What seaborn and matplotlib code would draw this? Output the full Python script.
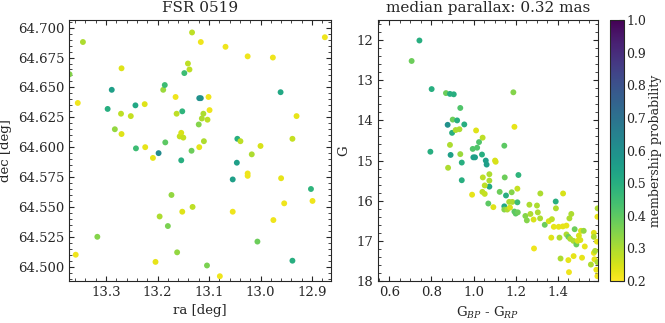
import numpy as np
import pandas as pd
import matplotlib
matplotlib.use('Agg')
import matplotlib.pyplot as plt
import seaborn as sns

# sky positions (left panel)
ra = [13.371, 13.345, 13.355, 13.359, 13.317, 13.289, 13.297, 13.283, 13.271, 13.270,
      13.270, 13.252, 13.243, 13.242, 13.225, 13.224, 13.209, 13.198, 13.204, 13.196,
      13.189, 13.186, 13.185, 13.180, 13.173, 13.165, 13.162, 13.163, 13.157, 13.154,
      13.150, 13.152, 13.154, 13.152, 13.148, 13.141, 13.138, 13.134, 13.133, 13.132,
      13.120, 13.119, 13.119, 13.116, 13.116, 13.114, 13.111, 13.110, 13.104, 13.103,
      13.101, 13.099, 13.079, 13.068, 13.054, 13.054, 13.046, 13.045, 13.039, 13.025,
      13.025, 13.025, 13.017, 13.006, 13.000, 12.976, 12.975, 12.961, 12.960, 12.954,
      12.938, 12.938, 12.930, 12.902, 12.899, 12.875]
dec = [64.661, 64.688, 64.637, 64.510, 64.525, 64.648, 64.632, 64.615, 64.628, 64.666,
       64.611, 64.626, 64.635, 64.599, 64.636, 64.600, 64.591, 64.595, 64.504, 64.542,
       64.648, 64.652, 64.604, 64.534, 64.560, 64.642, 64.512, 64.628, 64.609, 64.612,
       64.608, 64.630, 64.589, 64.546, 64.662, 64.670, 64.665, 64.597, 64.696, 64.550,
       64.619, 64.600, 64.641, 64.641, 64.688, 64.624, 64.628, 64.605, 64.501, 64.623,
       64.642, 64.631, 64.492, 64.684, 64.573, 64.546, 64.587, 64.607, 64.605, 64.676,
       64.578, 64.576, 64.594, 64.521, 64.601, 64.675, 64.539, 64.646, 64.574, 64.553,
       64.607, 64.505, 64.626, 64.565, 64.555, 64.692]
prob_sky = [0.35, 0.30, 0.22, 0.22, 0.35, 0.55, 0.50, 0.33, 0.28, 0.24,
            0.24, 0.27, 0.52, 0.45, 0.24, 0.23, 0.23, 0.62, 0.23, 0.30,
            0.32, 0.45, 0.40, 0.36, 0.33, 0.22, 0.33, 0.28, 0.27, 0.25,
            0.27, 0.48, 0.50, 0.24, 0.45, 0.28, 0.28, 0.38, 0.28, 0.28,
            0.35, 0.23, 0.60, 0.60, 0.22, 0.30, 0.30, 0.30, 0.36, 0.28,
            0.22, 0.22, 0.22, 0.22, 0.55, 0.22, 0.55, 0.50, 0.28, 0.22,
            0.22, 0.22, 0.30, 0.38, 0.25, 0.22, 0.22, 0.52, 0.23, 0.22,
            0.27, 0.50, 0.23, 0.48, 0.22, 0.22]

# colour-magnitude diagram (right panel)
bp_rp = [0.743, 0.706, 0.801, 0.869, 0.888, 0.906, 1.189, 0.937, 0.877, 0.901,
         0.922, 0.956, 0.898, 0.915, 0.933, 1.194, 1.012, 1.043, 1.026, 0.888,
         0.795, 0.996, 1.017, 1.146, 0.891, 0.937, 0.999, 1.007, 1.040, 0.944,
         1.058, 1.062, 1.102, 1.105, 0.879, 1.044, 1.075, 1.148, 1.213, 0.944,
         1.075, 1.075, 1.053, 1.208, 0.993, 1.042, 1.053, 1.124, 1.154, 1.181,
         1.317, 1.425, 1.070, 1.094, 1.169, 1.184, 1.208, 1.146, 1.146, 1.160,
         1.173, 1.194, 1.200, 1.210, 1.390, 1.265, 1.301, 1.391, 1.246, 1.253,
         1.270, 1.285, 1.305, 1.316, 1.338, 1.357, 1.372, 1.381, 1.404, 1.424,
         1.441, 1.455, 1.464, 1.480, 1.441, 1.450, 1.459, 1.474, 1.488, 1.494,
         1.507, 1.500, 1.510, 1.523, 1.528, 1.369, 1.408, 1.287, 1.413, 1.450,
         1.475, 1.515, 1.453, 1.557, 1.571, 1.574, 1.577, 1.571, 1.571, 1.588,
         1.589, 1.588, 1.588, 1.586, 1.583]
gmag = [12.01, 12.52, 13.22, 13.32, 13.34, 13.35, 13.30, 13.69, 14.11, 13.98,
        14.00, 14.10, 14.31, 14.24, 14.22, 14.16, 14.25, 14.43, 14.54, 14.61,
        14.78, 14.71, 14.68, 14.63, 14.86, 14.84, 14.92, 14.92, 14.85, 15.05,
        15.00, 15.10, 15.00, 15.03, 15.18, 15.42, 15.34, 15.42, 15.36, 15.49,
        15.50, 15.65, 15.62, 15.70, 15.85, 15.78, 15.83, 15.78, 15.87, 15.79,
        15.82, 15.82, 16.07, 16.16, 16.03, 16.03, 16.04, 16.14, 16.22, 16.22,
        16.17, 16.27, 16.32, 16.29, 16.02, 16.10, 16.12, 16.19, 16.38, 16.49,
        16.33, 16.47, 16.29, 16.44, 16.60, 16.51, 16.46, 16.65, 16.65, 16.64,
        16.62, 16.44, 16.33, 16.71, 16.84, 16.90, 16.95, 17.00, 17.09, 17.00,
        16.98, 16.87, 16.75, 16.75, 17.14, 16.92, 16.92, 17.19, 17.44, 17.48,
        17.38, 17.42, 17.78, 17.59, 17.30, 17.46, 17.25, 16.80, 16.90, 16.40,
        16.19, 17.53, 17.88, 17.02, 17.72]
prob_cmd = [0.50, 0.38, 0.50, 0.38, 0.50, 0.50, 0.35, 0.42, 0.60, 0.38,
            0.50, 0.50, 0.50, 0.30, 0.30, 0.23, 0.24, 0.28, 0.42, 0.30,
            0.50, 0.42, 0.42, 0.40, 0.55, 0.32, 0.55, 0.55, 0.50, 0.50,
            0.55, 0.55, 0.25, 0.25, 0.30, 0.28, 0.30, 0.38, 0.48, 0.50,
            0.30, 0.52, 0.28, 0.27, 0.23, 0.28, 0.27, 0.38, 0.50, 0.35,
            0.30, 0.25, 0.40, 0.24, 0.30, 0.30, 0.45, 0.52, 0.35, 0.30,
            0.25, 0.40, 0.40, 0.38, 0.50, 0.30, 0.30, 0.30, 0.35, 0.35,
            0.30, 0.25, 0.30, 0.30, 0.38, 0.25, 0.28, 0.23, 0.23, 0.23,
            0.23, 0.30, 0.30, 0.38, 0.30, 0.38, 0.30, 0.30, 0.38, 0.25,
            0.25, 0.25, 0.25, 0.33, 0.23, 0.24, 0.30, 0.22, 0.30, 0.23,
            0.23, 0.23, 0.22, 0.30, 0.23, 0.23, 0.30, 0.24, 0.30, 0.23,
            0.30, 0.30, 0.22, 0.23, 0.23]

sky = pd.DataFrame({'ra': ra, 'dec': dec, 'p': prob_sky})
cmd = pd.DataFrame({'bp_rp': bp_rp, 'G': gmag, 'p': prob_cmd})

sns.set_style('ticks')
plt.rcParams['font.family'] = 'DejaVu Serif'
plt.rcParams['mathtext.fontset'] = 'dejavuserif'
plt.rcParams['font.size'] = 9.5
plt.rcParams['xtick.direction'] = 'in'
plt.rcParams['ytick.direction'] = 'in'
plt.rcParams['xtick.top'] = True
plt.rcParams['ytick.right'] = True
plt.rcParams['xtick.minor.visible'] = True
plt.rcParams['ytick.minor.visible'] = True

cmap = 'viridis_r'
norm = plt.Normalize(0.2, 1.0)

fig = plt.figure(figsize=(6.65, 3.23), dpi=100)
ax1 = fig.add_axes([0.1038, 0.130, 0.394, 0.808])
ax2 = fig.add_axes([0.568, 0.130, 0.331, 0.808])
cax = fig.add_axes([0.918, 0.130, 0.020, 0.808])

sns.scatterplot(data=sky, x='ra', y='dec', hue='p', palette=cmap, hue_norm=norm,
                s=18, linewidth=0, legend=False, ax=ax1)
ax1.set_xlim(13.372, 12.863)
ax1.set_ylim(64.488, 64.7064)
ax1.set_xticks([13.3, 13.2, 13.1, 13.0, 12.9])
ax1.set_xlabel('ra [deg]')
ax1.set_ylabel('dec [deg]')
ax1.set_title('FSR 0519', fontsize=11)

sns.scatterplot(data=cmd, x='bp_rp', y='G', hue='p', palette=cmap, hue_norm=norm,
                s=18, linewidth=0, legend=False, ax=ax2)
ax2.set_xlim(0.545, 1.59)
ax2.set_ylim(18.0, 11.5)
ax2.set_xticks([0.6, 0.8, 1.0, 1.2, 1.4])
ax2.set_xlabel('G$_{BP}$ - G$_{RP}$')
ax2.set_ylabel('G')
ax2.set_title('median parallax: 0.32 mas', fontsize=11)

sm = plt.cm.ScalarMappable(cmap=cmap, norm=norm)
cb = fig.colorbar(sm, cax=cax)
cb.ax.minorticks_off()
cb.ax.tick_params(direction='in', pad=2, labelsize=9)
cb.set_label('membership probability', labelpad=2, fontsize=9)

fig.savefig('out.png', dpi=100)
